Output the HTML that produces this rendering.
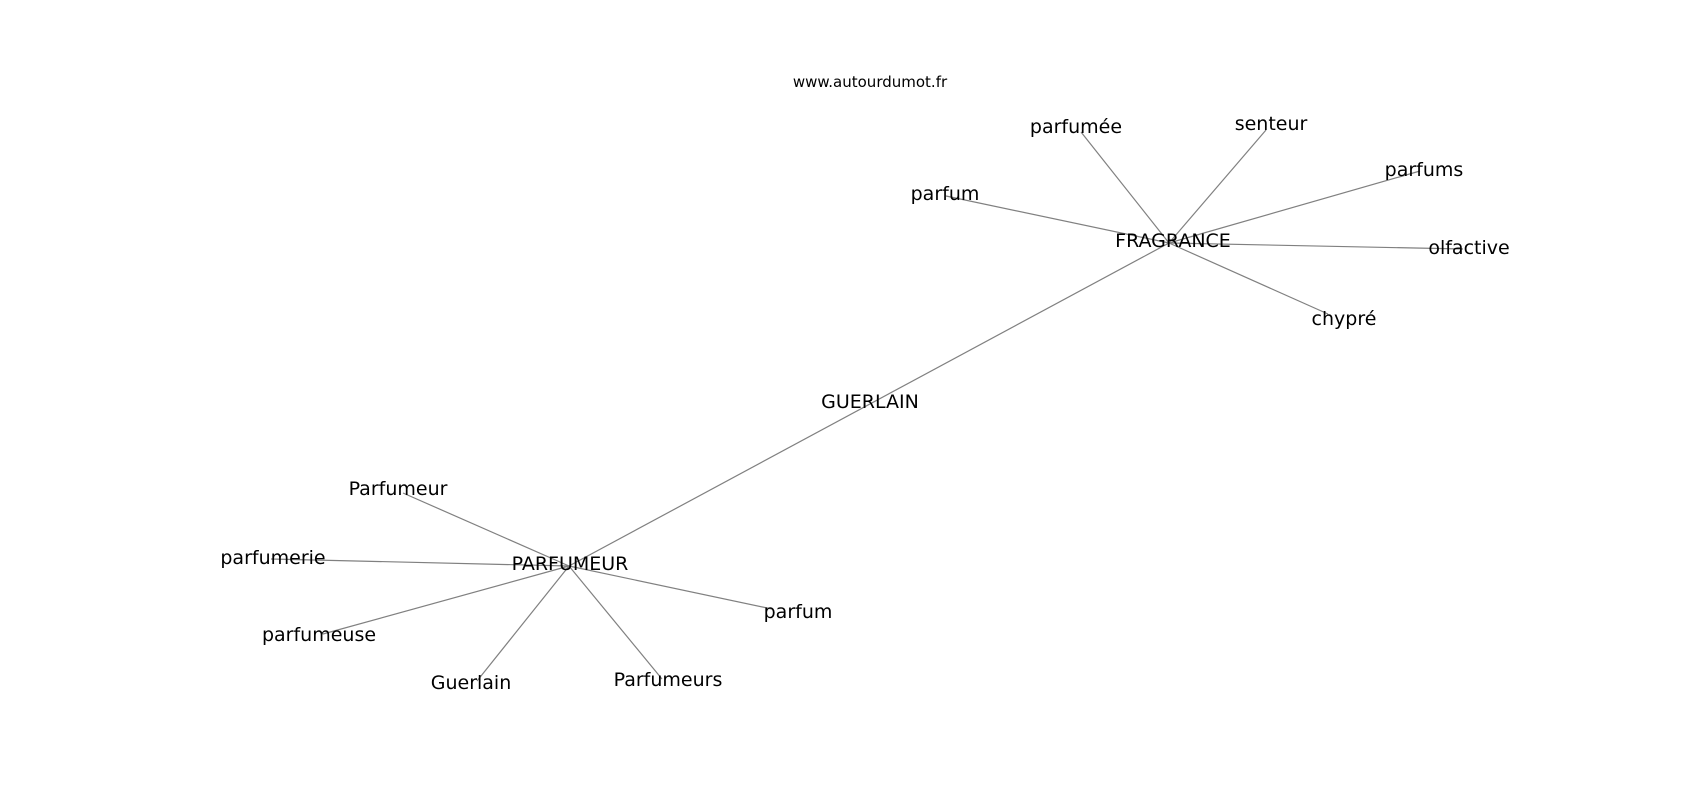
<!DOCTYPE html>
<html><head><meta charset="utf-8"><style>
html,body{margin:0;padding:0;background:#fff;}
svg{display:block;}
text{font-family:"DejaVu Sans","Liberation Sans",sans-serif;fill:#000;}
</style></head><body>
<svg width="1700" height="800" viewBox="0 0 1700 800" xmlns="http://www.w3.org/2000/svg">
<g stroke="#808080" stroke-width="1.2" fill="none">
<line x1="1169" y1="243" x2="569" y2="566"/>
<line x1="1169" y1="243" x2="1081" y2="132"/>
<line x1="1169" y1="243" x2="1266" y2="130"/>
<line x1="1169" y1="243" x2="1420" y2="171"/>
<line x1="1169" y1="243" x2="946" y2="196"/>
<line x1="1169" y1="243" x2="1463" y2="249"/>
<line x1="1169" y1="243" x2="1328" y2="314"/>
<line x1="569" y1="566" x2="403" y2="493"/>
<line x1="569" y1="566" x2="271" y2="559"/>
<line x1="569" y1="566" x2="323" y2="634"/>
<line x1="569" y1="566" x2="477" y2="681"/>
<line x1="569" y1="566" x2="662" y2="679"/>
<line x1="569" y1="566" x2="772" y2="609"/>
</g>
<g font-size="19" text-anchor="middle" dominant-baseline="central">
<text x="1173" y="241">FRAGRANCE</text>
<text x="1076" y="127">parfumée</text>
<text x="1271" y="124">senteur</text>
<text x="1424" y="170">parfums</text>
<text x="945" y="194">parfum</text>
<text x="1469" y="248">olfactive</text>
<text x="1344" y="319">chypré</text>
<text x="870" y="402">GUERLAIN</text>
<text x="570" y="564">PARFUMEUR</text>
<text x="398" y="489">Parfumeur</text>
<text x="273" y="558">parfumerie</text>
<text x="319" y="635">parfumeuse</text>
<text x="471" y="683">Guerlain</text>
<text x="668" y="680">Parfumeurs</text>
<text x="798" y="612">parfum</text>
</g>
<text x="870" y="82" font-size="15" text-anchor="middle" dominant-baseline="central">www.autourdumot.fr</text>
</svg>
</body></html>
